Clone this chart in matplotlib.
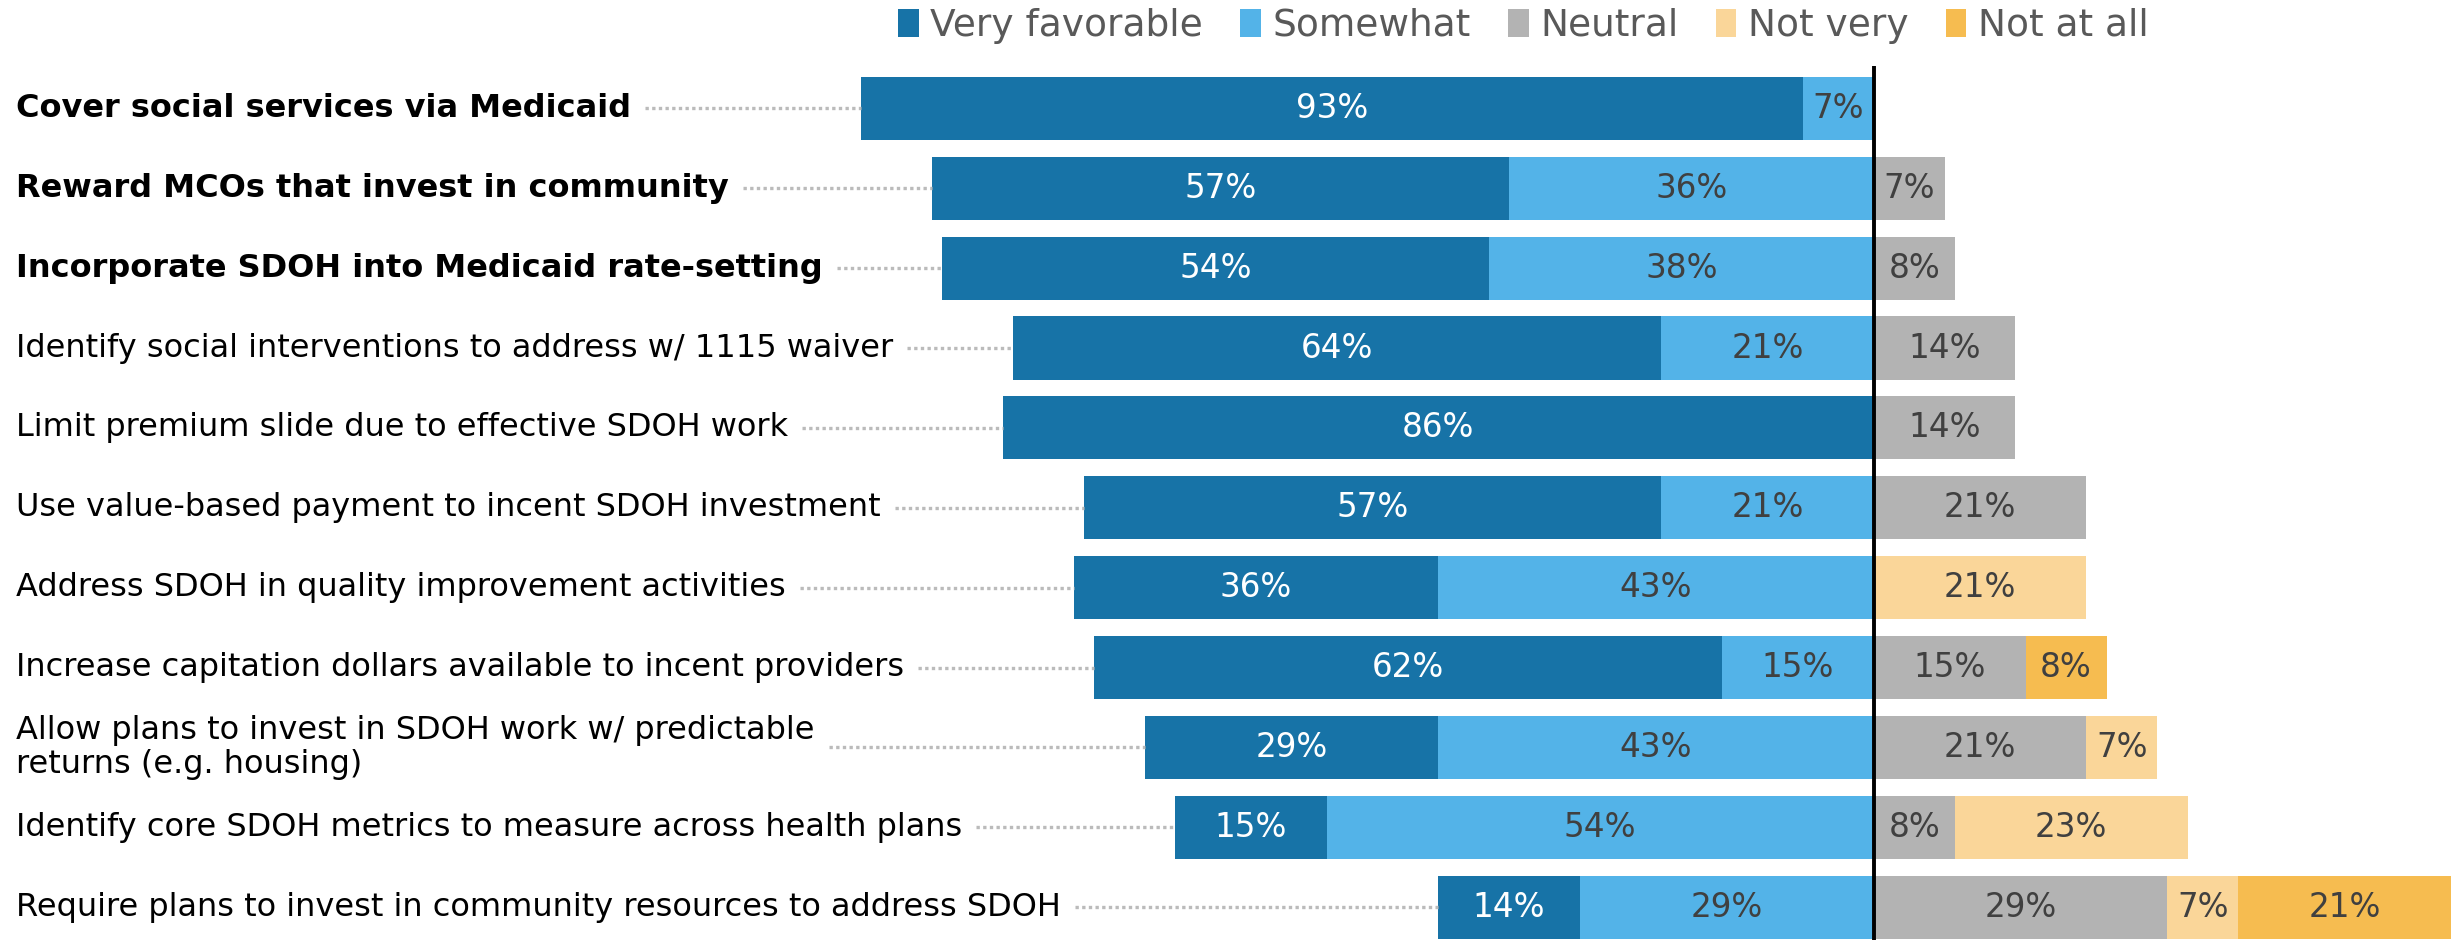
import matplotlib
matplotlib.use("Agg")
import numpy as np
import matplotlib.pyplot as plt
from matplotlib.patches import Patch
from matplotlib.lines import Line2D
from matplotlib.transforms import blended_transform_factory

plt.rcParams['font.family'] = 'DejaVu Sans'

labels = [
    "Cover social services via Medicaid",
    "Reward MCOs that invest in community",
    "Incorporate SDOH into Medicaid rate-setting",
    "Identify social interventions to address w/ 1115 waiver",
    "Limit premium slide due to effective SDOH work",
    "Use value-based payment to incent SDOH investment",
    "Address SDOH in quality improvement activities",
    "Increase capitation dollars available to incent providers",
    "Allow plans to invest in SDOH work w/ predictable\nreturns (e.g. housing)",
    "Identify core SDOH metrics to measure across health plans",
    "Require plans to invest in community resources to address SDOH",
]
bold_rows = [0, 1, 2]

very_favorable = [93, 57, 54, 64, 86, 57, 36, 62, 29, 15, 14]
somewhat = [7, 36, 38, 21, 0, 21, 43, 15, 43, 54, 29]
neutral = [0, 7, 8, 14, 14, 21, 0, 15, 21, 8, 29]
not_very = [0, 0, 0, 0, 0, 0, 21, 0, 7, 23, 7]
not_at_all = [0, 0, 0, 0, 0, 0, 0, 8, 0, 0, 21]

series_names = ["Very favorable", "Somewhat", "Neutral", "Not very", "Not at all"]
colors = ["#1773A7", "#53B3E8", "#B3B3B3", "#FAD699", "#F6BC50"]
text_colors = ["white", "#404040", "#404040", "#404040", "#404040"]

W, H = 2461, 940
fig = plt.figure(figsize=(W / 100, H / 100), dpi=100)
ax = fig.add_axes([861 / W, 0, 1600 / W, (H - 66) / H])

y = np.arange(len(labels))
bar_h = 0.79
pct_size = 23.5

# left side: favorable answers stack leftwards from zero
left_start = -(np.array(very_favorable) + np.array(somewhat))
pos = left_start.astype(float)
for k, vals in enumerate([very_favorable, somewhat]):
    vals = np.array(vals, dtype=float)
    ax.barh(y, vals, left=pos, height=bar_h, color=colors[k], edgecolor='none')
    for i, v in enumerate(vals):
        if v > 0:
            ax.text(pos[i] + v / 2, y[i], f"{int(v)}%", ha='center', va='center',
                    color=text_colors[k], fontsize=pct_size)
    pos = pos + vals

# right side: neutral and unfavorable stack rightwards
pos = np.zeros(len(labels))
for k, vals in enumerate([neutral, not_very, not_at_all], start=2):
    vals = np.array(vals, dtype=float)
    ax.barh(y, vals, left=pos, height=bar_h, color=colors[k], edgecolor='none')
    for i, v in enumerate(vals):
        if v > 0:
            ax.text(pos[i] + v / 2, y[i], f"{int(v)}%", ha='center', va='center',
                    color=text_colors[k], fontsize=pct_size)
    pos = pos + vals

ax.axvline(0, color='black', linewidth=2.8, zorder=5)
ax.set_xlim(-100, 58)
ax.set_ylim(10.41, -0.53)
ax.axis('off')

# category labels at the left edge of the figure
trans = blended_transform_factory(fig.transFigure, ax.transData)
label_texts = []
for i, lab in enumerate(labels):
    t = ax.text(16 / W, y[i], lab, transform=trans, ha='left', va='center',
                fontsize=23, fontweight='bold' if i in bold_rows else 'normal',
                color='black', clip_on=False, linespacing=1.15)
    label_texts.append(t)

# dotted leaders from label end to bar start
fig.canvas.draw()
r = fig.canvas.get_renderer()
for i, t in enumerate(label_texts):
    bb = t.get_window_extent(r)
    x0 = bb.x1 + 14
    x1, yc = ax.transData.transform((left_start[i], y[i]))
    ax.add_artist(Line2D([x0 / W, x1 / W], [yc / H, yc / H], transform=fig.transFigure,
                         color='#BBBBBB', linewidth=2.4, linestyle=(0, (1, 1)), clip_on=False))

handles = [Patch(facecolor=c, edgecolor='none') for c in colors]
fig.legend(handles, series_names, loc='center', bbox_to_anchor=(0.619, 1 - 26 / H), ncol=5,
           frameon=False, fontsize=27, handlelength=0.55, handleheight=0.8,
           handletextpad=0.3, columnspacing=1.0, labelcolor='#595959')

fig.savefig("out.png", dpi=100)
